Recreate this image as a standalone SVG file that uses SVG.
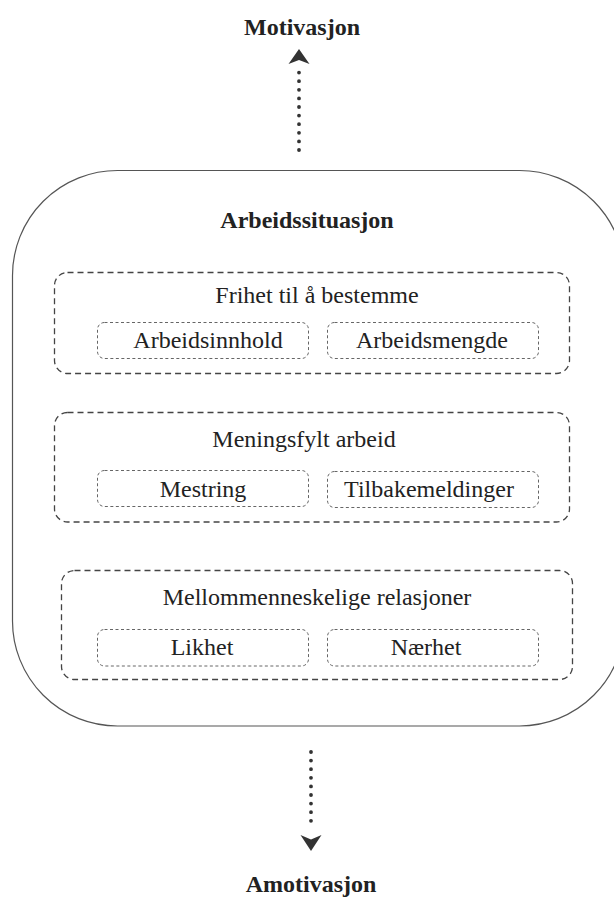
<svg xmlns="http://www.w3.org/2000/svg" width="614" height="897" viewBox="0 0 614 897">
<style>
text{font-family:"Liberation Serif","Times New Roman",serif;fill:#222;text-anchor:middle}
.t{font-size:24px}
.b{font-size:24px;font-weight:bold}
.grp{fill:none;stroke:#444;stroke-width:1.3;stroke-dasharray:6 4}
.box{fill:none;stroke:#666;stroke-width:1;stroke-dasharray:3 2.5}
.dot{fill:none;stroke:#333;stroke-width:3.8;stroke-linecap:round;stroke-dasharray:0 8.6}
.head{fill:#333}
</style>
<rect width="614" height="897" fill="#fff"/>
<g id="motivasjon"><text class="b" x="302" y="35">Motivasjon</text></g>
<g id="amotivasjon"><text class="b" x="311" y="892">Amotivasjon</text></g>
<g id="arbeidssituasjon">
<rect x="12.5" y="170.5" width="612" height="555.5" rx="105" ry="105" fill="none" stroke="#555" stroke-width="1.2"/>
<text class="b" x="307" y="228">Arbeidssituasjon</text>
</g>
<g id="frihet">
<rect class="grp" x="54.5" y="272.5" width="515" height="101" rx="13"/>
<text class="t" x="317" y="303">Frihet til å bestemme</text>
</g>
<g id="arbeidsinnhold">
<rect class="box" x="97.5" y="322.5" width="211" height="36" rx="7"/>
<text class="t" x="208" y="348">Arbeidsinnhold</text>
</g>
<g id="arbeidsmengde">
<rect class="box" x="327.5" y="322.5" width="211" height="36" rx="7"/>
<text class="t" x="432" y="348">Arbeidsmengde</text>
</g>
<g id="meningsfylt">
<rect class="grp" x="54.5" y="412.5" width="515" height="109.5" rx="13"/>
<text class="t" x="304" y="447">Meningsfylt arbeid</text>
</g>
<g id="mestring">
<rect class="box" x="97.5" y="470.5" width="211" height="36" rx="7"/>
<text class="t" x="203" y="497">Mestring</text>
</g>
<g id="tilbakemeldinger">
<rect class="box" x="327.5" y="471.5" width="211" height="36" rx="7"/>
<text class="t" x="429" y="497">Tilbakemeldinger</text>
</g>
<g id="mellommenneskelige">
<rect class="grp" x="61.5" y="570.5" width="511" height="109" rx="13"/>
<text class="t" x="317" y="605">Mellommenneskelige relasjoner</text>
</g>
<g id="likhet">
<rect class="box" x="97.5" y="629.5" width="211" height="36.5" rx="7"/>
<text class="t" x="202" y="655">Likhet</text>
</g>
<g id="naerhet">
<rect class="box" x="327.5" y="629.5" width="211" height="36.5" rx="7"/>
<text class="t" x="426" y="655">Nærhet</text>
</g>
<g id="connectors">
<line class="dot" x1="299" y1="150" x2="299" y2="66"/>
<path class="head" d="M299 49 L309.5 64 L299 60 L288.5 64 Z"/>
<line class="dot" x1="311" y1="752" x2="311" y2="827"/>
<path class="head" d="M311 851 L321.5 835 L311 839.5 L300.5 835 Z"/>
</g>
</svg>
